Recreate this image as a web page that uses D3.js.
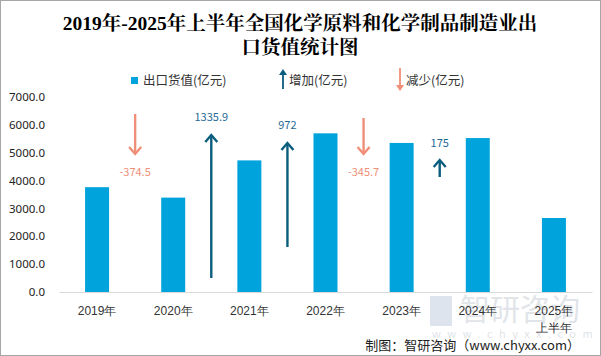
<!DOCTYPE html>
<html><head><meta charset="utf-8">
<script src="https://cdn.jsdelivr.net/npm/d3@7"></script>
<style>
html,body{margin:0;padding:0;background:#fff;}
svg{display:block;font-family:"Microsoft YaHei","Noto Sans CJK SC","Noto Sans",sans-serif;}
</style></head>
<body>
<svg id="chart" width="601" height="356"></svg>
<script>
// ---- data ----
const categories = ["2019年","2020年","2021年","2022年","2023年","2024年","2025年\n上半年"];
const exportValues = [3762.8, 3388.3, 4724.2, 5696.2, 5350.5, 5525.5, 2656.0];
const changes = [-374.5, 1335.9, 972, -345.7, 175];
// arrow extents, in primary-axis units
const arrowFrom = [6390, 503, 1615, 6246, 4128];
const arrowTo   = [4954, 5636, 5349, 4954, 4738];
const labelAt   = [4308, 6282, 5995, 4308, 5349];
const yTicks = [0,1000,2000,3000,4000,5000,6000,7000];
const titleLines = ["2019年-2025年上半年全国化学原料和化学制品制造业出","口货值统计图"];
const legendItems = ["出口货值(亿元)","增加(亿元)","减少(亿元)"];
const sourceText = "制图：智研咨询（www.chyxx.com）";

const BAR = "#00a3db", UP = "#0b5d7e", DOWN = "#f08f78", UPTXT="#1f6a96";

const svg = d3.select("#chart");
svg.append("rect").attr("x",0.5).attr("y",0.5).attr("width",600).attr("height",355)
  .attr("fill","#fff").attr("stroke","#a6a6a6");

const x = d3.scaleBand().domain(categories).range([59,592]).paddingInner(0.685).paddingOuter(0.3425);
const y = d3.scaleLinear().domain([0,7000]).range([292,97]);

// watermark
const wm = svg.append("g").attr("opacity",0.55);
wm.append("text").attr("x",460).attr("y",320).attr("font-size",30).attr("fill","#c9ced6")
  .attr("font-family","Noto Sans CJK SC").text("智研咨询");
wm.append("rect").attr("x",430).attr("y",296).attr("width",22).attr("height",30).attr("fill","#c3cfe0");
wm.append("text").attr("x",432).attr("y",338).attr("font-size",11).attr("fill","#c9ced6")
  .attr("letter-spacing","6.5").text("www.chyxx.com");

// title
svg.append("g").selectAll("text").data(titleLines).join("text")
  .attr("x",300).attr("y",(d,i)=>30+i*24).attr("text-anchor","middle")
  .attr("font-size",19.5).attr("font-weight","bold").attr("fill","#000")
  .attr("font-family","'Liberation Serif','Noto Serif CJK SC','Noto Sans CJK SC',serif")
  .text(d=>d);

// legend
const lg = svg.append("g").attr("font-size",12.5).attr("fill","#333");
lg.append("rect").attr("x",131).attr("y",77).attr("width",7).attr("height",7).attr("fill",BAR);
lg.append("text").attr("x",143).attr("y",85).attr("fill","#333").text(legendItems[0]);
function arrow(g, x0, yFrom, yTo, color, w, hw, hh){
  g.append("line").attr("x1",x0).attr("x2",x0).attr("y1",yFrom).attr("y2",yTo)
    .attr("stroke",color).attr("stroke-width",w);
  const dir = yTo < yFrom ? 1 : -1;
  g.append("path").attr("d",`M${x0-hw},${yTo+dir*hh}L${x0},${yTo}L${x0+hw},${yTo+dir*hh}`)
    .attr("fill","none").attr("stroke",color).attr("stroke-width",w).attr("stroke-linejoin","miter");
}
function filledArrow(g, x0, yFrom, yTo, color){
  const dir = yTo < yFrom ? 1 : -1;
  g.append("line").attr("x1",x0).attr("x2",x0).attr("y1",yFrom).attr("y2",yTo+dir*5)
    .attr("stroke",color).attr("stroke-width",1.8);
  g.append("path").attr("d",`M${x0-4},${yTo+dir*6}L${x0},${yTo}L${x0+4},${yTo+dir*6}Z`).attr("fill",color);
}
filledArrow(lg,283,89,69,UP);
lg.append("text").attr("x",289).attr("y",85).attr("fill","#333").text(legendItems[1]);
filledArrow(lg,400,68,91,DOWN);
lg.append("text").attr("x",406).attr("y",85).attr("fill","#333").text(legendItems[2]);

// y axis
const ya = svg.append("g").attr("transform","translate(45,0)")
  .call(d3.axisLeft(y).tickValues(yTicks).tickFormat(d3.format(".1f")).tickSize(0).tickPadding(0));
ya.select(".domain").remove();
ya.selectAll("text").attr("font-size",11.5).attr("fill","#222").attr("font-family","'Noto Sans','DejaVu Sans',sans-serif");

// x axis
const xa = svg.append("g").attr("transform","translate(0,292)")
  .call(d3.axisBottom(x).tickSize(0).tickFormat(""));
xa.select(".domain").attr("stroke","#d9d9d9");
xa.selectAll(".tick").each(function(d){
  const lines = d.split("\n");
  d3.select(this).append("text").selectAll("tspan").data(lines).join("tspan")
    .attr("x",0).attr("y",(t,i)=>23+i*17).attr("text-anchor","middle")
    .attr("font-size",12).attr("fill","#333").text(t=>t);
});

// bars
svg.append("g").selectAll("rect").data(exportValues).join("rect")
  .attr("x",(d,i)=>x(categories[i])).attr("width",x.bandwidth())
  .attr("y",d=>y(d)).attr("height",d=>y(0)-y(d)).attr("fill",BAR);

// change arrows at band boundaries
const ag = svg.append("g");
changes.forEach((c,i)=>{
  const xb = x(categories[i]) + x.bandwidth() + (x.step()-x.bandwidth())/2;
  const col = c<0 ? DOWN : UP;
  arrow(ag, xb, y(arrowFrom[i]), y(arrowTo[i]), col, 2.4, 6, 7);
  ag.append("text").attr("x",xb).attr("y",y(labelAt[i])+4).attr("text-anchor","middle")
    .attr("font-size",11).attr("fill",c<0?DOWN:UPTXT).text(String(c));
});

// source
svg.append("text").attr("x",580).attr("y",350).attr("text-anchor","end")
  .attr("font-size",13).attr("fill","#222").text(sourceText);
</script>
</body></html>
